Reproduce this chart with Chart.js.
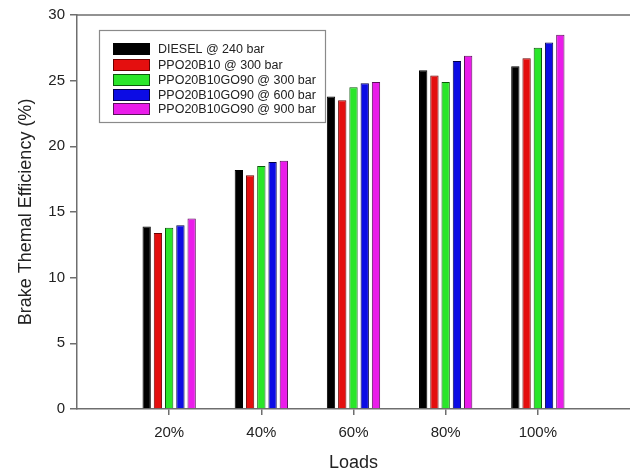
<!DOCTYPE html>
<html>
<head>
<meta charset="utf-8">
<script src="https://cdn.jsdelivr.net/npm/chart.js@4.4.1/dist/chart.umd.min.js"></script>
<style>
  body { margin: 0; background: #fff; }
  #wrap { width: 630px; height: 474px; }
</style>
</head>
<body>
<div id="wrap"><canvas id="bteChart"></canvas></div>
<script>
const loads = ['20%', '40%', '60%', '80%', '100%'];
const seriesNames = [
  'DIESEL @ 240 bar',
  'PPO20B10 @ 300 bar',
  'PPO20B10GO90 @ 300 bar',
  'PPO20B10GO90 @ 600 bar',
  'PPO20B10GO90 @ 900 bar',
];
const diesel240 = [13.9, 18.2, 23.8, 25.8, 26.1];
const ppo300 = [13.4, 17.8, 23.5, 25.4, 26.7];
const go90_300 = [13.8, 18.5, 24.5, 24.9, 27.5];
const go90_600 = [14.0, 18.8, 24.8, 26.5, 27.9];
const go90_900 = [14.5, 18.9, 24.9, 26.9, 28.5];
const yTicks = [0, 5, 10, 15, 20, 25, 30];

const fillColors = ['#000000', '#e40f0f', '#2ae62a', '#0c0ce4', '#ea1cea'];
const edgeColors = ['#000000', '#6a0000', '#0a5a0a', '#00004a', '#5a105a'];
const FONT = 'Arial, "Liberation Sans", sans-serif';
const AXIS = '#6e6e6e';

const allSeries = [diesel240, ppo300, go90_300, go90_600, go90_900];
const datasets = allSeries.map((vals, k) => ({
  label: seriesNames[k],
  data: vals.map((v, i) => ({ x: i + 1, y: v })),
  backgroundColor: fillColors[k],
  borderColor: edgeColors[k],
  borderWidth: 1,
  barPercentage: 0.74,
  categoryPercentage: 0.61,
}));

// top frame line + legend box drawn inside the plot
const framePlugin = {
  id: 'frameAndLegend',
  afterDraw(chart) {
    const { ctx, chartArea } = chart;
    ctx.save();
    ctx.strokeStyle = AXIS;
    ctx.lineWidth = 1.5;
    ctx.beginPath();
    ctx.moveTo(chartArea.left, chartArea.top);
    ctx.lineTo(chart.width, chartArea.top);
    ctx.stroke();

    // legend
    const bx = 99.5, by = 30.5, bw = 226, bh = 92;
    ctx.strokeStyle = '#8a8a8a';
    ctx.lineWidth = 1.2;
    ctx.strokeRect(bx, by, bw, bh);
    const rowTops = [43, 59, 74, 89, 103];
    ctx.font = '12.5px ' + FONT;
    ctx.textBaseline = 'middle';
    chart.data.datasets.forEach((ds, k) => {
      const y = rowTops[k];
      ctx.fillStyle = ds.backgroundColor;
      ctx.fillRect(113, y, 37, 12);
      ctx.strokeStyle = ds.borderColor;
      ctx.lineWidth = 1;
      ctx.strokeRect(113.5, y + 0.5, 36, 11);
      ctx.fillStyle = '#222';
      ctx.fillText(ds.label, 158, y + 6.5);
    });
    ctx.restore();
  },
};

new Chart(document.getElementById('bteChart'), {
  type: 'bar',
  data: { datasets },
  options: {
    responsive: true,
    maintainAspectRatio: false,
    animation: false,
    layout: { padding: { top: 15, right: 0, left: 0, bottom: 0 } },
    plugins: {
      legend: { display: false },
      tooltip: { enabled: false },
    },
    scales: {
      x: {
        type: 'linear',
        min: 0,
        max: 6,
        offset: false,
        afterBuildTicks: (scale) => {
          scale.ticks = loads.map((l, i) => ({ value: i + 1 }));
        },
        afterFit: (scale) => { scale.height = 65; },
        ticks: {
          callback: (value) => loads[value - 1] ?? '',
          color: '#222',
          font: { family: FONT, size: 15 },
          padding: 9,
          maxRotation: 0,
        },
        grid: { offset: false, drawOnChartArea: false, drawTicks: true, tickLength: 6, tickColor: AXIS, lineWidth: 1.5 },
        border: { color: AXIS, width: 1.5 },
        title: {
          display: true,
          text: 'Loads',
          color: '#222',
          font: { family: FONT, size: 18 },
          padding: { top: 0, bottom: 0 },
        },
      },
      y: {
        min: 0,
        max: 30,
        afterBuildTicks: (scale) => {
          scale.ticks = yTicks.map((v) => ({ value: v }));
        },
        afterFit: (scale) => { scale.width = 77; },
        ticks: {
          color: '#222',
          font: { family: FONT, size: 15 },
          padding: 5,
        },
        grid: { drawOnChartArea: false, drawTicks: true, tickLength: 7, tickColor: AXIS, lineWidth: 1.5 },
        border: { color: AXIS, width: 1.5 },
        title: {
          display: true,
          text: 'Brake Themal Efficiency (%)',
          color: '#222',
          font: { family: FONT, size: 18 },
          padding: { top: 15, bottom: 0 },
        },
      },
    },
  },
  plugins: [framePlugin],
});
</script>
</body>
</html>
